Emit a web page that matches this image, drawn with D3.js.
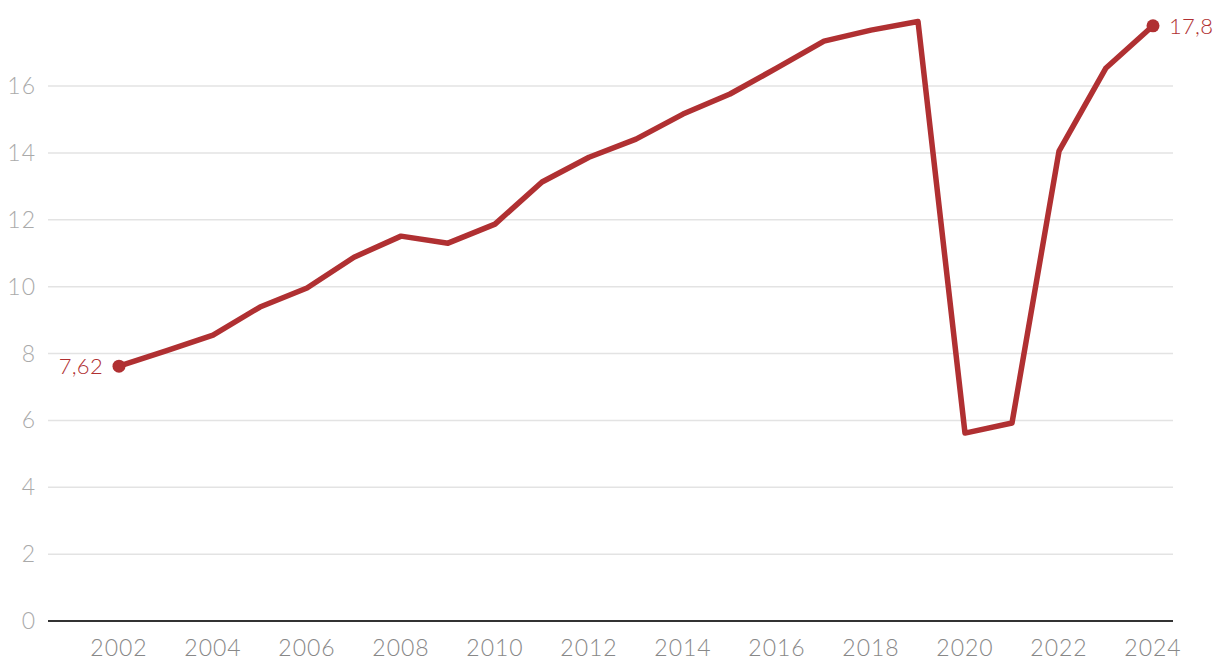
<!DOCTYPE html>
<html><head><meta charset="utf-8">
<script src="https://cdn.jsdelivr.net/npm/d3@7"></script>
<style>
body{margin:0;background:#fff;}
text{font-family:Lato,"Open Sans",sans-serif;font-weight:300;letter-spacing:1px;}
text.lab{letter-spacing:0.3px;}
</style></head><body>
<svg id="c" width="1220" height="672"></svg>
<script>
const years = [2002,2003,2004,2005,2006,2007,2008,2009,2010,2011,2012,2013,2014,2015,2016,2017,2018,2019,2020,2021,2022,2023,2024];
const values = [7.62,8.08,8.55,9.39,9.96,10.88,11.51,11.30,11.87,13.13,13.87,14.41,15.16,15.76,16.54,17.34,17.67,17.93,5.62,5.92,14.05,16.54,17.8];
const yTicks = [0,2,4,6,8,10,12,14,16];
const xTicks = [2002,2004,2006,2008,2010,2012,2014,2016,2018,2020,2022,2024];
const firstLabel = "7,62", lastLabel = "17,8";

const svg = d3.select("#c");
const x = d3.scaleLinear().domain([2002,2024]).range([119,1153]);
const y = d3.scaleLinear().domain([0,16]).range([621,86]);
const red = "#b03032";

svg.append("g").selectAll("line").data(yTicks.filter(d=>d>0)).join("line")
  .attr("x1",48).attr("x2",1173).attr("y1",d=>y(d)).attr("y2",d=>y(d))
  .attr("stroke","#e3e3e3").attr("stroke-width",1.5);
svg.append("g").selectAll("text").data(yTicks).join("text")
  .attr("x",36).attr("y",d=>y(d)).attr("dy","0.35em").attr("text-anchor","end")
  .attr("fill","#aaa").attr("font-size",23).text(d=>d);
svg.append("line").attr("x1",48).attr("x2",1173).attr("y1",y(0)).attr("y2",y(0))
  .attr("stroke","#333").attr("stroke-width",2);
svg.append("g").selectAll("text").data(xTicks).join("text")
  .attr("x",d=>x(d)).attr("y",656).attr("text-anchor","middle")
  .attr("fill","#888").attr("font-size",23).text(d=>d);

const line = d3.line().x((d,i)=>x(years[i])).y(d=>y(d));
svg.append("path").datum(values).attr("d",line).attr("fill","none")
  .attr("stroke",red).attr("stroke-width",5.5).attr("stroke-linejoin","round");
const ends = [0, values.length-1];
svg.selectAll("circle.e").data(ends).join("circle")
  .attr("cx",i=>x(years[i])).attr("cy",i=>y(values[i])).attr("r",6.5).attr("fill",red);
svg.append("text").attr("class","lab").attr("x",x(years[0])-16).attr("y",y(values[0])).attr("dy","0.35em")
  .attr("text-anchor","end").attr("fill",red).attr("font-size",22).text(firstLabel);
svg.append("text").attr("class","lab").attr("x",x(years[years.length-1])+16).attr("y",y(values[values.length-1])).attr("dy","0.35em")
  .attr("text-anchor","start").attr("fill",red).attr("font-size",22).text(lastLabel);
</script></body></html>
